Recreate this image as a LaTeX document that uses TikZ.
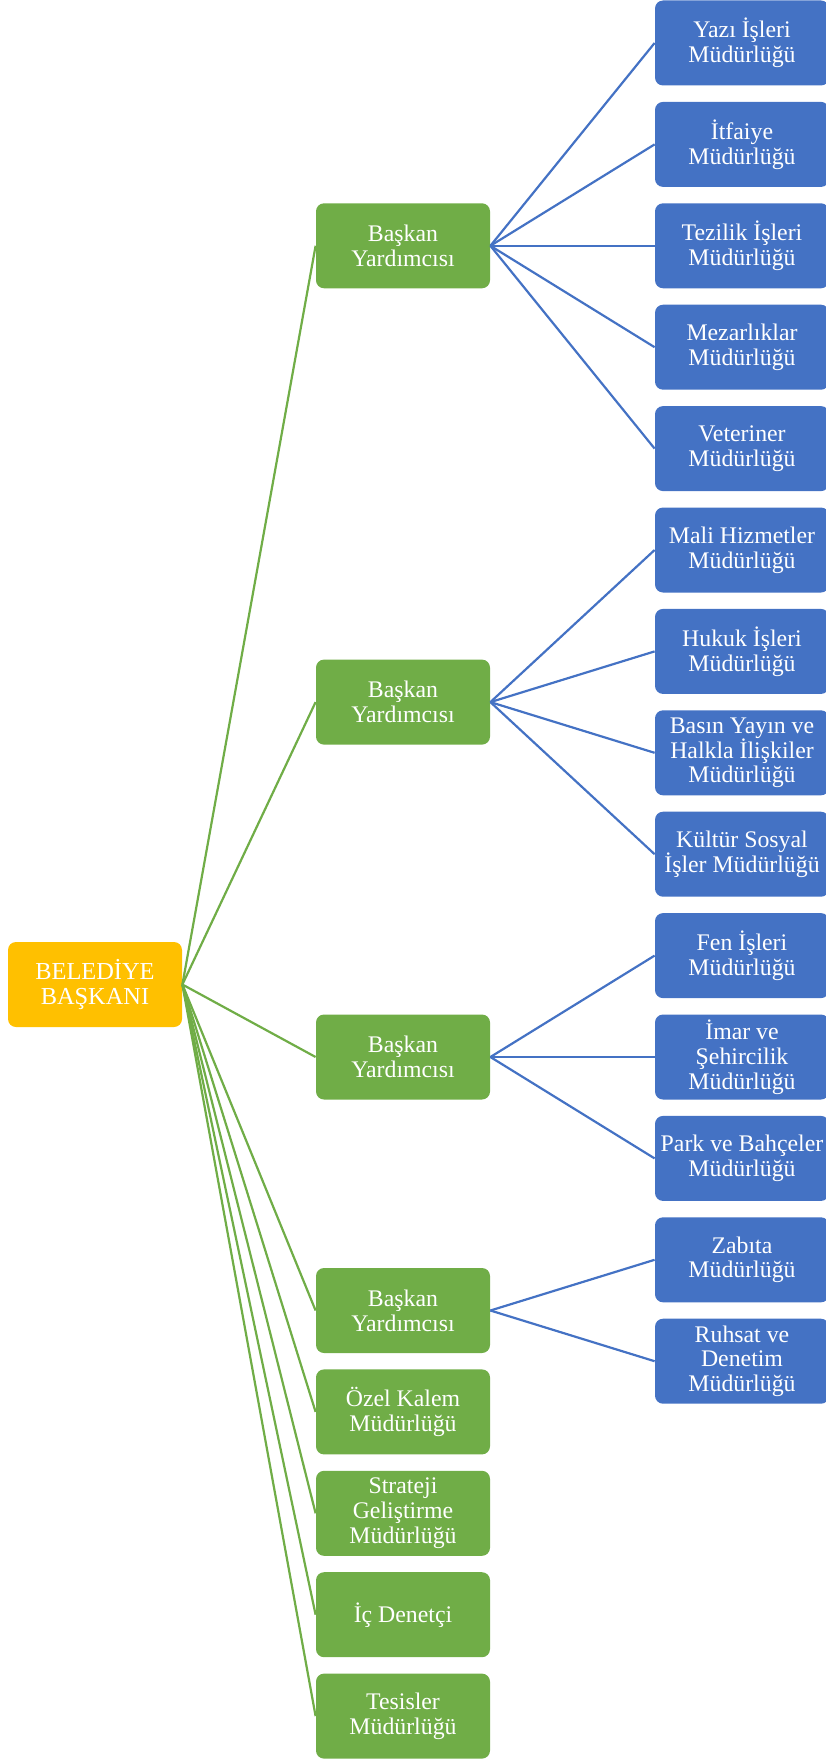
\documentclass[tikz,border=0pt]{standalone}
\usepackage{fontspec}
\setmainfont{Liberation Serif}
\definecolor{gold}{HTML}{FFC000}
\definecolor{leaf}{HTML}{70AD47}
\definecolor{sky}{HTML}{4472C4}
\begin{document}
\begin{tikzpicture}[x=0.5pt, y=-0.5pt,
  every node/.style={font=\fontsize{11.9pt}{12.4pt}\selectfont},
  box/.style={rounded corners=4pt, minimum width=87pt, minimum height=42.5pt,
    align=center, text=white, inner sep=1pt},
  rootbox/.style={box, fill=gold},
  greenbox/.style={box, fill=leaf},
  bluebox/.style={box, fill=sky},
  greenline/.style={draw=leaf, line width=1.1pt},
  blueline/.style={draw=sky, line width=1.1pt}]
\useasboundingbox (0,0) rectangle (825,1760);
\node[rootbox, font=\fontsize{12.2pt}{12.4pt}\selectfont] (root) at (95,984.5) {BELEDİYE\\BAŞKANI};
% green column
\node[greenbox] (g1) at (403,245.8) {Başkan\\Yardımcısı};
\node[greenbox] (g2) at (403,702.1) {Başkan\\Yardımcısı};
\node[greenbox] (g3) at (403,1057) {Başkan\\Yardımcısı};
\node[greenbox] (g4) at (403,1310.5) {Başkan\\Yardımcısı};
\node[greenbox] (g5) at (403,1411.9) {Özel Kalem\\Müdürlüğü};
\node[greenbox] (g6) at (403,1513.3) {Strateji\\Geliştirme\\Müdürlüğü};
\node[greenbox] (g7) at (403,1614.7) {İç Denetçi};
\node[greenbox] (g8) at (403,1716.1) {Tesisler\\Müdürlüğü};
% blue column
\node[bluebox] (b0) at (742,43) {Yazı İşleri\\Müdürlüğü};
\node[bluebox] (b1) at (742,144.4) {İtfaiye\\Müdürlüğü};
\node[bluebox] (b2) at (742,245.8) {Tezilik İşleri\\Müdürlüğü};
\node[bluebox] (b3) at (742,347.2) {Mezarlıklar\\Müdürlüğü};
\node[bluebox] (b4) at (742,448.6) {Veteriner\\Müdürlüğü};
\node[bluebox] (b5) at (742,550) {Mali Hizmetler\\Müdürlüğü};
\node[bluebox] (b6) at (742,651.4) {Hukuk İşleri\\Müdürlüğü};
\node[bluebox] (b7) at (742,752.8) {Basın Yayın ve\\Halkla İlişkiler\\Müdürlüğü};
\node[bluebox] (b8) at (742,854.2) {Kültür Sosyal\\İşler Müdürlüğü};
\node[bluebox] (b9) at (742,955.6) {Fen İşleri\\Müdürlüğü};
\node[bluebox] (b10) at (742,1057) {İmar ve\\Şehircilik\\Müdürlüğü};
\node[bluebox] (b11) at (742,1158.4) {Park ve Bahçeler\\Müdürlüğü};
\node[bluebox] (b12) at (742,1259.8) {Zabıta\\Müdürlüğü};
\node[bluebox] (b13) at (742,1361.2) {Ruhsat ve\\Denetim\\Müdürlüğü};
% connectors
\foreach \g in {g1,g2,g3,g4,g5,g6,g7,g8}
  \draw[greenline] (root.east) -- (\g.west);
\foreach \b in {b0,b1,b2,b3,b4}
  \draw[blueline] (g1.east) -- (\b.west);
\foreach \b in {b5,b6,b7,b8}
  \draw[blueline] (g2.east) -- (\b.west);
\foreach \b in {b9,b10,b11}
  \draw[blueline] (g3.east) -- (\b.west);
\foreach \b in {b12,b13}
  \draw[blueline] (g4.east) -- (\b.west);
\end{tikzpicture}
\end{document}
